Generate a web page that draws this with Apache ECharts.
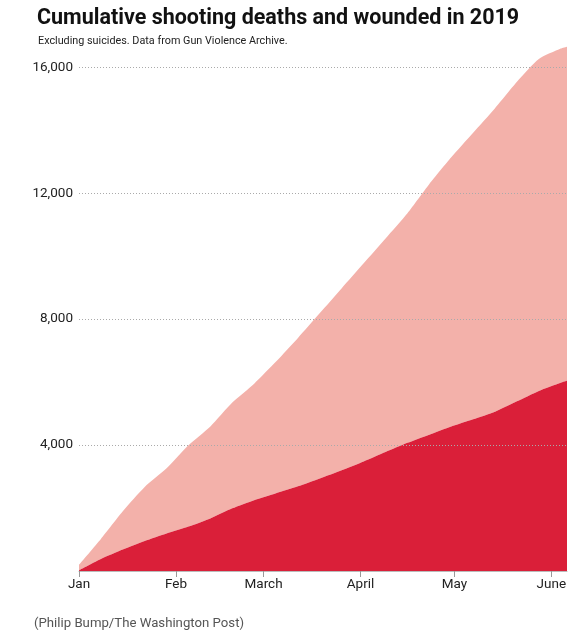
<!DOCTYPE html>
<html>
<head>
<meta charset="utf-8">
<script src="https://cdn.jsdelivr.net/npm/echarts@6/dist/echarts.min.js"></script>
<style>
html,body{margin:0;padding:0;background:#fff;}
#chart{width:584px;height:640px;}
</style>
</head>
<body>
<div id="chart"></div>
<script>
// weekly readings, 2019
var dates = ['2019-01-01','2019-01-08','2019-01-15','2019-01-22','2019-01-29','2019-02-05','2019-02-12','2019-02-19',
	'2019-02-26','2019-03-05','2019-03-12','2019-03-19','2019-03-26','2019-04-02','2019-04-09','2019-04-16',
	'2019-04-23','2019-04-30','2019-05-07','2019-05-14','2019-05-21','2019-05-28','2019-06-04','2019-06-06'];
var deaths = [20,380,680,950,1190,1410,1670,1990,2250,2470,2690,2940,3200,3480,3780,4070,
	4330,4590,4820,5060,5390,5720,5980,6040];
var wounded = [180,640,1220,1720,2070,2580,2920,3360,3700,4180,4710,5250,5780,6290,6780,7290,
	7960,8550,9100,9640,10150,10540,10610,10610];
var monthStarts = ['2019-01-01','2019-02-01','2019-03-01','2019-04-01','2019-05-01','2019-06-01'];
var monthLabels = ['Jan','Feb','March','April','May','June'];
var yTicks = [4000,8000,12000,16000];

// day of year, counted from Jan 1
function toDay(s)
{
	var p = s.split('-');
	return Math.round((Date.UTC(+p[0], +p[1] - 1, +p[2]) - Date.UTC(2019, 0, 1)) / 86400000);
}

var days = dates.map(toDay);
var monthDays = monthStarts.map(toDay);

var myChart = echarts.init(document.getElementById('chart'));
var option = {
	animation: false,
	title: [{
		text: 'Cumulative shooting deaths and wounded in 2019',
		left: 32, top: 3,
		textStyle: {fontFamily: 'Roboto', fontWeight: 'bold', fontSize: 21.5, color: '#111'}
	}, {
		text: 'Excluding suicides. Data from Gun Violence Archive.',
		left: 33, top: 31,
		textStyle: {fontFamily: 'Roboto', fontWeight: 'normal', fontSize: 10.8, color: '#222'}
	}, {
		text: '(Philip Bump/The Washington Post)',
		left: 29, top: 612,
		textStyle: {fontFamily: 'Roboto', fontWeight: 'normal', fontSize: 13.2, color: '#555'}
	}],
	grid: {left: 79, right: 17, top: 42, bottom: 69},
	xAxis: {
		type: 'value',
		min: 0,
		max: toDay('2019-06-06'),
		axisLine: {show: true, onZero: false, lineStyle: {color: '#bbb', width: 1}},
		axisTick: {show: true, length: 6, lineStyle: {color: '#999'}, customValues: monthDays},
		axisLabel: {
			customValues: monthDays,
			fontFamily: 'Roboto', fontSize: 13.5, color: '#222', margin: 7,
			formatter: function (v) {
				return monthLabels[monthDays.indexOf(v)];
			}
		},
		splitLine: {show: false}
	},
	yAxis: {
		type: 'value',
		min: 0, max: 16800,
		axisLine: {show: false},
		axisTick: {show: false},
		axisLabel: {
			customValues: yTicks,
			fontFamily: 'Roboto', fontSize: 13.5, color: '#222', margin: 6,
			formatter: function (v) { return v.toLocaleString('en-US'); }
		},
		splitLine: {show: false}
	},
	series: [
	{
		name: 'Deaths',
		type: 'line',
		stack: 'total',
		symbol: 'none',
		smooth: 0.2,
		lineStyle: {width: 0},
		areaStyle: {color: '#da1f39', opacity: 1},
		// value first so the stack sums the counts, not the days
		encode: {x: 1, y: 0},
		data: days.map(function (d, i) { return [deaths[i], d]; }),
		z: 3
	},
	{
		name: 'Wounded',
		type: 'line',
		stack: 'total',
		symbol: 'none',
		smooth: 0.2,
		lineStyle: {width: 0},
		areaStyle: {color: '#f3b1aa', opacity: 1},
		encode: {x: 1, y: 0},
		data: days.map(function (d, i) { return [wounded[i], d]; }),
		z: 2,
		markLine: {
			silent: true,
			symbol: 'none',
			label: {show: false},
			lineStyle: {color: '#aaa', type: [1, 2], width: 1},
			data: yTicks.map(function (v) { return {yAxis: v}; }),
			z: 10
		}
	}]
};
myChart.setOption(option);
</script>
</body>
</html>
